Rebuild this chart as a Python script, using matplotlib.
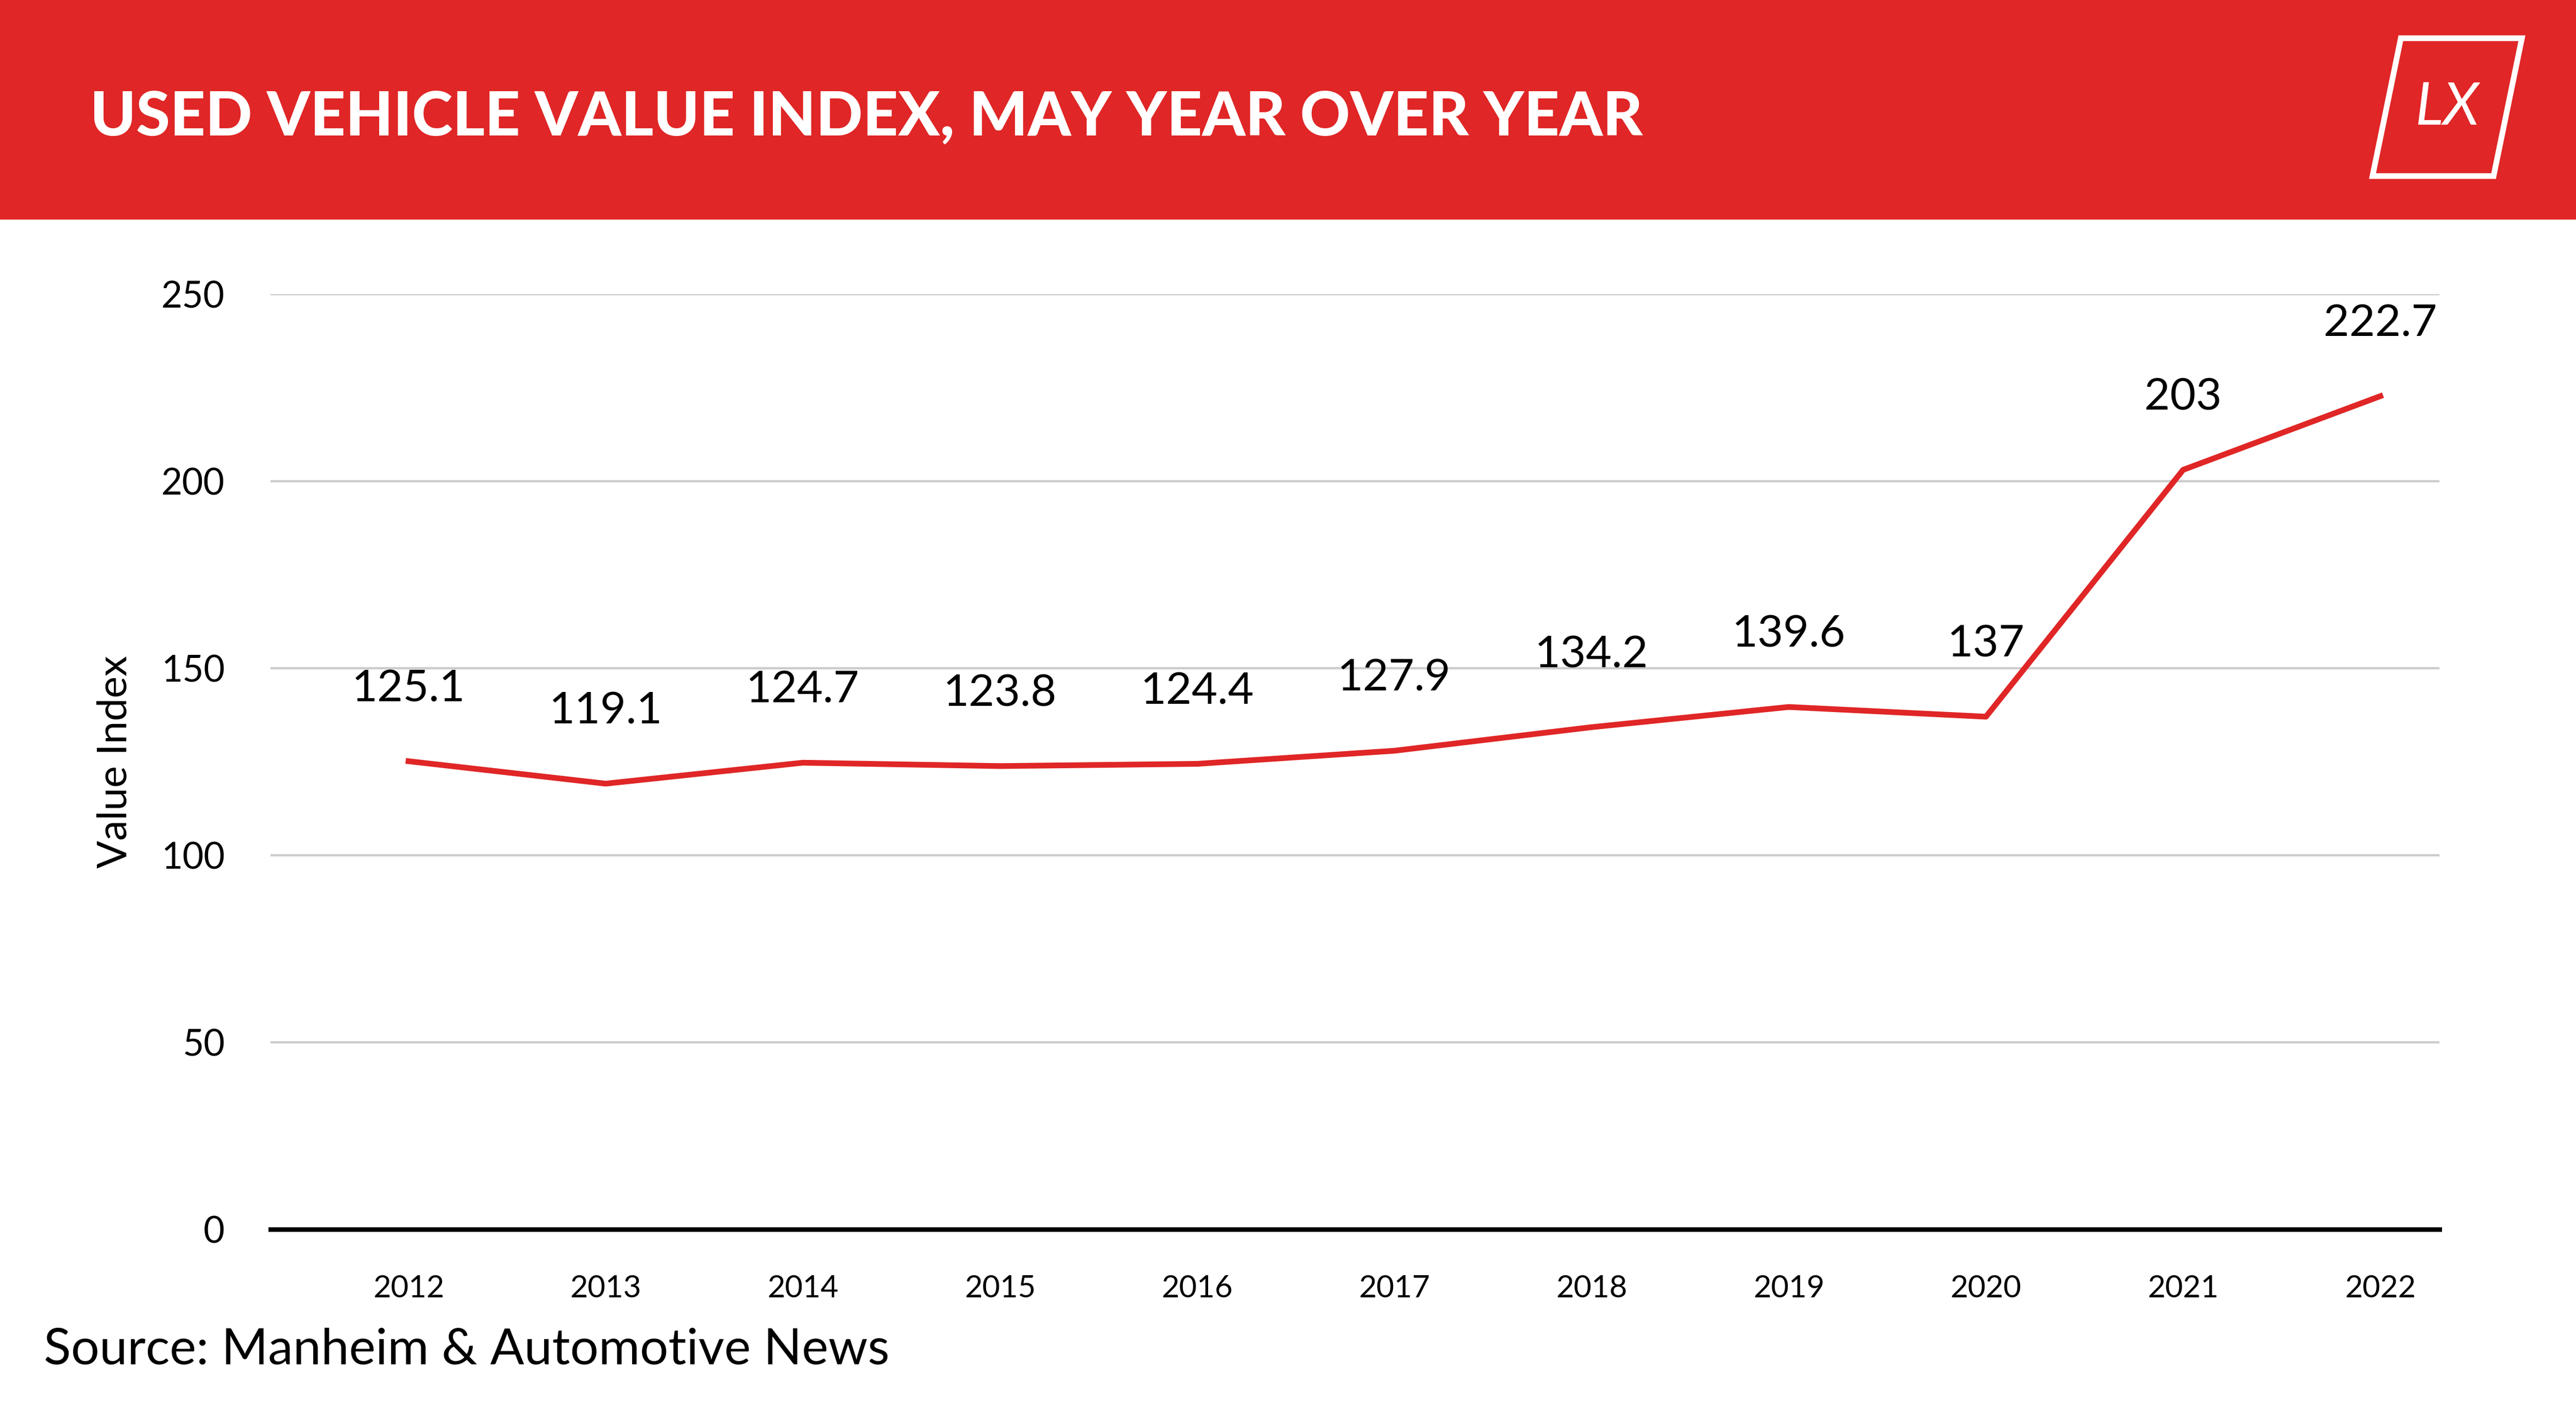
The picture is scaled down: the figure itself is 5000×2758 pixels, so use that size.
import matplotlib.pyplot as plt
from matplotlib.patches import Rectangle, Polygon

years = ['2012', '2013', '2014', '2015', '2016', '2017', '2018', '2019', '2020', '2021', '2022']
values = [125.1, 119.1, 124.7, 123.8, 124.4, 127.9, 134.2, 139.6, 137, 203, 222.7]
labels = ['125.1', '119.1', '124.7', '123.8', '124.4', '127.9', '134.2', '139.6', '137', '203', '222.7']

red = '#E02626'
plt.rcParams['font.family'] = ['Lato', 'DejaVu Sans']
plt.rcParams['text.color'] = 'black'

fig = plt.figure(figsize=(15.68, 8.65), dpi=5000 / 15.68)

# red header band
fig.patches.append(Rectangle((0, 0.846), 1, 0.154, transform=fig.transFigure, color=red, zorder=0))
fig.text(0.035, 0.917, 'USED VEHICLE VALUE INDEX, MAY YEAR OVER YEAR', color='white',
         fontsize=27, fontweight='black', va='center', ha='left')
# logo
fig.patches.append(Polygon([(0.921, 0.876), (0.968, 0.876), (0.979, 0.973), (0.932, 0.973)],
                           closed=True, fill=False, ec='white', lw=2.5, transform=fig.transFigure))
fig.text(0.950, 0.924, 'LX', color='white', fontsize=26, style='italic', ha='center', va='center')

ax = fig.add_axes([0.105, 0.135, 0.842, 0.658])
x = range(len(years))
ax.plot(x, values, color=red, lw=2.5)
for i, (v, s) in enumerate(zip(values, labels)):
    ax.text(i, v + 14, s, ha='center', va='bottom', fontsize=19.5, color='black')

ax.set_ylim(0, 250)
ax.set_xlim(-0.7, 10.3)
ax.set_yticks([0, 50, 100, 150, 200, 250])
ax.set_xticks(list(x))
ax.set_xticklabels(years)
ax.tick_params(axis='y', length=0, labelsize=16, pad=20, labelcolor='black')
ax.tick_params(axis='x', length=0, labelsize=13.5, pad=20, labelcolor='black')
ax.grid(axis='y', color='#cccccc', lw=1)
ax.set_axisbelow(True)
for sp in ['top', 'right', 'left']:
    ax.spines[sp].set_visible(False)
ax.spines['bottom'].set_linewidth(2)
ax.spines['bottom'].set_color('black')
ax.set_ylabel('Value Index', fontsize=18, labelpad=12, color='black')

fig.text(0.017, 0.05, 'Source: Manheim & Automotive News', fontsize=22, va='center')

fig.savefig('out.png', dpi=5000 / 15.68)
